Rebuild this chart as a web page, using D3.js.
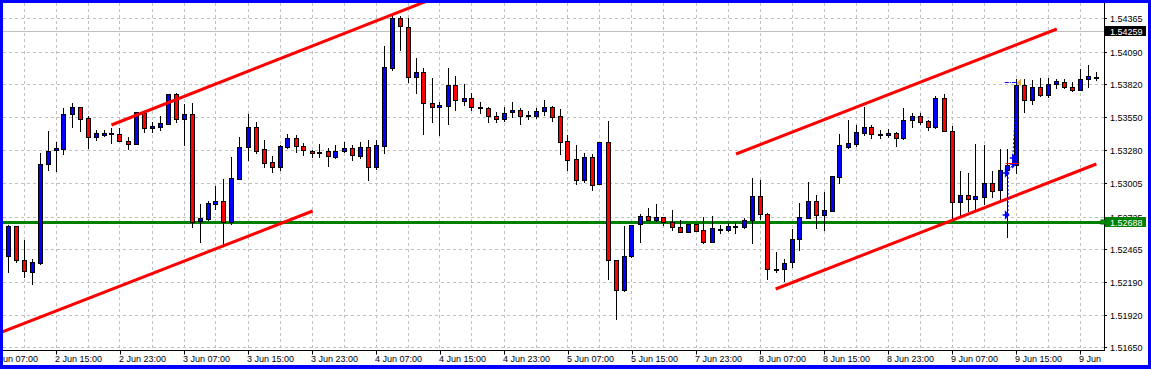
<!DOCTYPE html>
<html>
<head>
<meta charset="utf-8">
<script src="https://cdn.jsdelivr.net/npm/d3@7"></script>
<style>
  body { margin: 0; background: #fff; }
  text { font-family: "Liberation Sans", Arial, sans-serif; font-size: 9px; }
</style>
</head>
<body>
<div id="chart"></div>
<script>
const width = 1151, height = 369;
const plot = { left: 3, top: 3, right: 1104, bottom: 351 };

// hourly bars, 2 Jun 09:00 onwards
const opens = [1.52407,1.52649,1.52368,1.52275,1.52347,1.53160,1.53276,1.53290,1.53578,1.53631,1.53545,1.53383,1.53405,1.53416,1.53408,1.53350,1.53325,1.53581,1.53457,1.53471,
  1.53490,1.53738,1.53532,1.53573,1.52696,1.52712,1.52836,1.52855,1.52687,1.53037,1.53306,1.53468,1.53284,1.53177,1.53141,1.53306,1.53378,1.53312,1.53273,1.53265,
  1.53270,1.53224,1.53268,1.53292,1.53232,1.53301,1.53141,1.53314,1.53958,1.54365,1.54291,1.53884,1.53919,1.53664,1.53631,1.53644,1.53812,1.53686,1.53705,1.53631,
  1.53622,1.53556,1.53532,1.53595,1.53609,1.53567,1.53562,1.53598,1.53631,1.53556,1.53350,1.53202,1.53034,1.53218,1.52995,1.53342,1.52368,1.52121,1.52401,1.52665,
  1.52731,1.52701,1.52723,1.52687,1.52641,1.52605,1.52668,1.52619,1.52522,1.52630,1.52621,1.52649,1.52643,1.52704,1.52896,1.52751,1.52294,1.52294,1.52352,1.52544,
  1.52720,1.52855,1.52740,1.52778,1.53059,1.53306,1.53328,1.53422,1.53471,1.53408,1.53402,1.53416,1.53375,1.53523,1.53556,1.53518,1.53466,1.53705,1.53433,1.52847,
  1.52905,1.52877,1.52894,1.53006,1.52946,1.53111,1.53152,1.53812,1.53688,1.53796,1.53732,1.53823,1.53842,1.53796,1.53776,1.53862,1.53884];
const highs = [1.52657,1.52649,1.52536,1.52380,1.53251,1.53435,1.53347,1.53622,1.53666,1.53636,1.53559,1.53444,1.53444,1.53457,1.53463,1.53386,1.53589,1.53595,1.53510,1.53559,
  1.53738,1.53746,1.53658,1.53664,1.52833,1.52858,1.52982,1.53037,1.53221,1.53383,1.53576,1.53510,1.53361,1.53232,1.53317,1.53411,1.53402,1.53334,1.53279,1.53328,
  1.53292,1.53320,1.53345,1.53320,1.53347,1.53361,1.53361,1.54137,1.54392,1.54384,1.54365,1.54035,1.53952,1.53870,1.53675,1.53952,1.53889,1.53823,1.53746,1.53677,
  1.53631,1.53595,1.53631,1.53672,1.53622,1.53603,1.53622,1.53691,1.53642,1.53614,1.53402,1.53320,1.53251,1.53246,1.53342,1.53518,1.52368,1.52652,1.52660,1.52751,
  1.52798,1.52833,1.52729,1.52784,1.52701,1.52668,1.52668,1.52723,1.52734,1.52660,1.52679,1.52682,1.52715,1.53045,1.53031,1.52756,1.52434,1.52380,1.52627,1.52841,
  1.53012,1.52907,1.52929,1.53064,1.53411,1.53526,1.53485,1.53636,1.53485,1.53444,1.53452,1.53430,1.53625,1.53581,1.53581,1.53526,1.53727,1.53738,1.53477,1.53105,
  1.53086,1.53328,1.53317,1.53103,1.53287,1.53287,1.53862,1.53862,1.53856,1.53870,1.53870,1.53864,1.53864,1.53837,1.53947,1.53980,1.53925];
const lows = [1.52275,1.52357,1.52234,1.52171,1.52341,1.53116,1.53108,1.53248,1.53471,1.53435,1.53298,1.53358,1.53397,1.53339,1.53350,1.53290,1.53325,1.53430,1.53430,1.53444,
  1.53490,1.53510,1.53320,1.52646,1.52522,1.52701,1.52795,1.52501,1.52668,1.53037,1.53199,1.53257,1.53141,1.53100,1.53114,1.53298,1.53265,1.53237,1.53224,1.53218,
  1.53149,1.53213,1.53265,1.53196,1.53210,1.53031,1.53119,1.53257,1.53939,1.54104,1.53842,1.53752,1.53411,1.53512,1.53402,1.53496,1.53609,1.53650,1.53609,1.53587,
  1.53512,1.53512,1.53521,1.53554,1.53496,1.53532,1.53540,1.53567,1.53521,1.53246,1.53114,1.52998,1.53017,1.52949,1.52995,1.52217,1.51887,1.52116,1.52399,1.52522,
  1.52701,1.52696,1.52660,1.52619,1.52600,1.52605,1.52613,1.52509,1.52520,1.52591,1.52613,1.52591,1.52638,1.52514,1.52707,1.52217,1.52269,1.52198,1.52316,1.52454,
  1.52715,1.52635,1.52619,1.52778,1.53009,1.53298,1.53314,1.53402,1.53380,1.53380,1.53389,1.53314,1.53367,1.53468,1.53493,1.53444,1.53463,1.53433,1.52701,1.52743,
  1.52775,1.52775,1.52833,1.52894,1.52872,1.52564,1.53092,1.53592,1.53661,1.53724,1.53719,1.53787,1.53790,1.53768,1.53774,1.53801,1.53859];
const closes = [1.52649,1.52368,1.52278,1.52352,1.53163,1.53268,1.53295,1.53573,1.53631,1.53532,1.53383,1.53416,1.53416,1.53416,1.53350,1.53325,1.53589,1.53457,1.53477,1.53501,
  1.53738,1.53532,1.53573,1.52687,1.52715,1.52841,1.52858,1.52687,1.53045,1.53303,1.53468,1.53273,1.53174,1.53141,1.53312,1.53378,1.53312,1.53276,1.53257,1.53259,
  1.53226,1.53270,1.53292,1.53235,1.53303,1.53136,1.53317,1.53961,1.54365,1.54299,1.53884,1.53919,1.53664,1.53631,1.53647,1.53812,1.53688,1.53705,1.53631,1.53622,
  1.53562,1.53532,1.53581,1.53609,1.53562,1.53562,1.53598,1.53631,1.53554,1.53347,1.53199,1.53034,1.53218,1.52987,1.53342,1.52368,1.52121,1.52401,1.52660,1.52731,
  1.52704,1.52723,1.52687,1.52646,1.52605,1.52668,1.52613,1.52522,1.52632,1.52627,1.52649,1.52646,1.52698,1.52896,1.52748,1.52294,1.52297,1.52349,1.52544,1.52723,
  1.52855,1.52740,1.52781,1.53064,1.53320,1.53334,1.53424,1.53468,1.53408,1.53405,1.53416,1.53375,1.53526,1.53556,1.53512,1.53466,1.53705,1.53433,1.52847,1.52905,
  1.52877,1.52899,1.53006,1.52938,1.53111,1.53152,1.53815,1.53688,1.53796,1.53732,1.53823,1.53848,1.53796,1.53776,1.53862,1.53886,1.53880];

// time labels every 8 bars, first one two bars before the first candle
const timeLabels = ["2 Jun 07:00","2 Jun 15:00","2 Jun 23:00","3 Jun 07:00","3 Jun 15:00","3 Jun 23:00","4 Jun 07:00","4 Jun 15:00","4 Jun 23:00",
  "5 Jun 07:00","5 Jun 15:00","7 Jun 23:00","8 Jun 07:00","8 Jun 15:00","8 Jun 23:00","9 Jun 07:00","9 Jun 15:00","9 Jun 23:00"];
const firstLabelBar = -2;
const priceTicks = [1.54365,1.54090,1.53820,1.53550,1.53280,1.53005,1.52725,1.52465,1.52190,1.51920,1.51650];

const bidPrice = 1.54259;
const levelPrice = 1.52688;
// trend lines: [bar1, price1, bar2, price2]
const trendLines = [
  [-1.04, 1.51769, 38.09, 1.52778],
  [12.93, 1.53487, 53.96, 1.54547],
  [91.0, 1.53243, 131.1, 1.54274],
  [95.96, 1.52130, 136.05, 1.53163]
];
// trade marks around the jump on 9 Jun
const tradePath = [[125, 1.52743], [125, 1.53089], [125.6, 1.53161], [125.6, 1.53216], [126.1, 1.53839]];
const tradeArrows = [[124.7, 1.52743], [124.7, 1.53089], [125.6, 1.53161], [125.6, 1.53216]];
const tradeEntry = [124.6, 126, 1.53839];
const tradeStop = [124.7, 126.4, 1.53175];

const bars = opens.map((o, i) => ({ i, o, h: highs[i], l: lows[i], c: closes[i] }));

const svg = d3.select("#chart").append("svg")
  .attr("width", width)
  .attr("height", height)
  .style("display", "block");

svg.append("rect").attr("width", width).attr("height", height).attr("fill", "#fff");

const x = d3.scaleLinear().domain([0, 136]).range([8, 1096]);
const y = d3.scaleLinear().domain([1.51650, 1.54365]).range([347.4, 18.3]).interpolate(d3.interpolateRound);
const px = v => Math.floor(x(v)) + 0.5;

svg.append("clipPath").attr("id", "plot-clip")
  .append("rect")
  .attr("x", plot.left).attr("y", plot.top)
  .attr("width", plot.right - plot.left).attr("height", plot.bottom - plot.top);

const grid = svg.append("g").attr("clip-path", "url(#plot-clip)");
const gridBars = d3.range(2, 137, 4);
grid.selectAll(".vgrid")
  .data(gridBars)
  .join("line")
  .attr("class", "vgrid")
  .attr("x1", d => px(d)).attr("x2", d => px(d))
  .attr("y1", plot.top).attr("y2", plot.bottom)
  .attr("stroke", "#c0c0c0")
  .attr("stroke-dasharray", "3,3");

grid.selectAll(".hgrid")
  .data(priceTicks)
  .join("line")
  .attr("class", "hgrid")
  .attr("x1", plot.left).attr("x2", plot.right)
  .attr("y1", d => y(d) + 0.5).attr("y2", d => y(d) + 0.5)
  .attr("stroke", "#c0c0c0")
  .attr("stroke-dasharray", "3,3");

// bid line
grid.append("line")
  .attr("x1", plot.left).attr("x2", plot.right)
  .attr("y1", y(bidPrice) + 0.5).attr("y2", y(bidPrice) + 0.5)
  .attr("stroke", "#c0c0c0");

const chart = svg.append("g").attr("clip-path", "url(#plot-clip)");

// horizontal level
chart.append("line")
  .attr("x1", plot.left).attr("x2", plot.right - 3)
  .attr("y1", y(levelPrice) + 0.5).attr("y2", y(levelPrice) + 0.5)
  .attr("stroke", "#008000")
  .attr("stroke-width", 3);

// candles
chart.selectAll(".wick")
  .data(bars)
  .join("line")
  .attr("class", "wick")
  .attr("x1", d => px(d.i)).attr("x2", d => px(d.i))
  .attr("y1", d => y(d.h)).attr("y2", d => y(d.l) + 1)
  .attr("stroke", "#000");

chart.selectAll(".body")
  .data(bars)
  .join("rect")
  .attr("class", "body")
  .attr("x", d => px(d.i) - 2)
  .attr("y", d => y(Math.max(d.o, d.c)) + 0.5)
  .attr("width", 4)
  .attr("height", d => Math.max(1, y(Math.min(d.o, d.c)) - y(Math.max(d.o, d.c))))
  .attr("fill", d => d.c >= d.o ? "#0000ff" : "#ff0000")
  .attr("stroke", "#000");

// trend lines
chart.selectAll(".trend")
  .data(trendLines)
  .join("line")
  .attr("class", "trend")
  .attr("x1", d => x(d[0])).attr("y1", d => y(d[1]))
  .attr("x2", d => x(d[2])).attr("y2", d => y(d[3]))
  .attr("stroke", "#ff0000")
  .attr("stroke-width", 3);

// trade marks
chart.append("path")
  .attr("d", d3.line().x(d => x(d[0])).y(d => y(d[1]))(tradePath))
  .attr("fill", "none")
  .attr("stroke", "#0000ff")
  .attr("stroke-dasharray", "2,2");

chart.selectAll(".arrow")
  .data(tradeArrows)
  .join("path")
  .attr("class", "arrow")
  .attr("transform", d => `translate(${x(d[0])},${y(d[1])})`)
  .attr("d", "M-3,0H1M0,-3L3,0L0,3Z")
  .attr("fill", "#0000ff")
  .attr("stroke", "#0000ff")
  .attr("stroke-width", 1.5);

chart.append("line")
  .attr("x1", x(tradeEntry[0])).attr("x2", x(tradeEntry[1]))
  .attr("y1", y(tradeEntry[2]) + 0.5).attr("y2", y(tradeEntry[2]) + 0.5)
  .attr("stroke", "#0000ff")
  .attr("stroke-dasharray", "4,1,1,1");

chart.append("path")
  .attr("transform", `translate(${x(tradeEntry[1]) + 1},${y(tradeEntry[2]) + 0.5})`)
  .attr("d", "M0,0L4,-4V4Z")
  .attr("fill", "#e8a33a");

chart.append("line")
  .attr("x1", x(tradeStop[0])).attr("x2", x(tradeStop[1]))
  .attr("y1", y(tradeStop[2]) + 0.5).attr("y2", y(tradeStop[2]) + 0.5)
  .attr("stroke", "#ff0000");

// time axis, clipped to the plot width
svg.append("clipPath").attr("id", "time-clip")
  .append("rect")
  .attr("x", plot.left).attr("y", plot.bottom - 1)
  .attr("width", plot.right - plot.left).attr("height", height - plot.bottom);

const xAxis = d3.axisBottom(x)
  .tickValues(timeLabels.map((t, k) => firstLabelBar + 8 * k))
  .tickFormat((d, k) => timeLabels[k])
  .tickSize(4)
  .tickSizeOuter(0);

const gx = svg.append("g")
  .attr("clip-path", "url(#time-clip)")
  .append("g")
  .attr("transform", `translate(0, ${plot.bottom - 0.5})`)
  .call(xAxis);
gx.select(".domain").remove();
gx.selectAll("text")
  .attr("text-anchor", "start")
  .attr("x", -1.5)
  .attr("y", 5)
  .attr("dy", "0.71em")
  .attr("fill", "#000");
gx.attr("font-size", null).attr("font-family", null);

svg.append("line")
  .attr("x1", plot.left).attr("x2", plot.right + 1)
  .attr("y1", plot.bottom - 0.5).attr("y2", plot.bottom - 0.5)
  .attr("stroke", "#000");

// price axis
const yAxis = d3.axisRight(y)
  .tickValues(priceTicks)
  .tickFormat(d3.format(".5f"))
  .tickSize(3)
  .tickSizeOuter(0);

const gy = svg.append("g")
  .attr("transform", `translate(${plot.right}, 0)`)
  .call(yAxis);
gy.select(".domain").remove();
gy.selectAll("text")
  .attr("x", 6)
  .attr("dy", "0.35em")
  .attr("fill", "#000");
gy.attr("font-size", null).attr("font-family", null);

svg.append("line")
  .attr("x1", plot.right + 0.5).attr("x2", plot.right + 0.5)
  .attr("y1", plot.top).attr("y2", plot.bottom)
  .attr("stroke", "#000");

// price tags
const tags = [
  { p: bidPrice, fill: "#000" },
  { p: levelPrice, fill: "#008000" }
];
svg.append("rect")
  .attr("x", plot.right - 3).attr("y", y(levelPrice) - 2)
  .attr("width", 4).attr("height", 4)
  .attr("fill", "#00a000").attr("stroke", "#006000");

svg.selectAll(".tag")
  .data(tags)
  .join("rect")
  .attr("class", "tag")
  .attr("x", plot.right + 1)
  .attr("y", d => y(d.p) - 5)
  .attr("width", 41)
  .attr("height", 10)
  .attr("fill", d => d.fill);

svg.selectAll(".tag-text")
  .data(tags)
  .join("text")
  .attr("class", "tag-text")
  .attr("x", plot.right + 6)
  .attr("y", d => y(d.p) + 0.5)
  .attr("dy", "0.35em")
  .attr("fill", "#fff")
  .text(d => d3.format(".5f")(d.p));

// window frame
const frame = svg.append("g").attr("fill", "#0000ff");
frame.append("rect").attr("x", 0).attr("y", 0).attr("width", width).attr("height", 3);
frame.append("rect").attr("x", 0).attr("y", 365).attr("width", width).attr("height", 4);
frame.append("rect").attr("x", 0).attr("y", 0).attr("width", 3).attr("height", height);
frame.append("rect").attr("x", 1148).attr("y", 0).attr("width", 3).attr("height", height);
</script>
</body>
</html>
